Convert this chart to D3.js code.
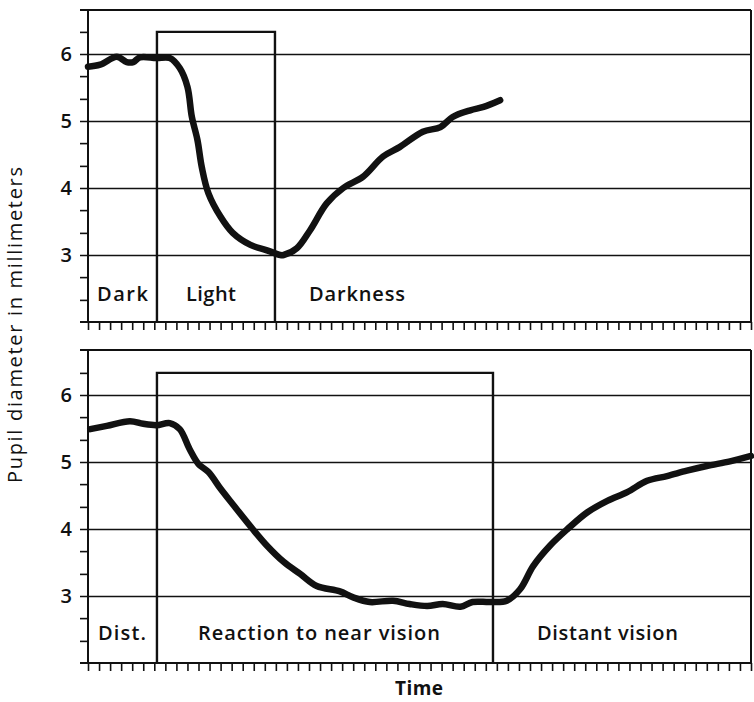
<!DOCTYPE html>
<html>
<head>
<meta charset="utf-8">
<script src="https://cdn.jsdelivr.net/npm/d3@7"></script>
<style>
  html, body { margin: 0; padding: 0; background: #fff; }
  svg { display: block; }
  text { font-family: "Open Sans", "Lato", "DejaVu Sans", sans-serif; fill: #111; }
</style>
</head>
<body>
<svg id="chart" width="754" height="702"></svg>
<script>
// ---- Data ----
// Top panel: light reflex (time units along the bottom tick scale)
const lightTime = [0, 1.1, 2.6, 3.5, 4.1, 4.7, 6.2, 7.4, 8.3, 9.0, 9.4, 9.9, 10.3, 10.9, 12.0, 13.1, 14.7, 16.2, 17.4, 17.7, 18.9, 20.1, 21.6, 23.1, 24.9, 26.7, 28.2, 30.3, 31.9, 33.0, 34.6, 35.8, 37.3];
const lightPupil = [5.81, 5.84, 5.96, 5.88, 5.88, 5.95, 5.94, 5.94, 5.79, 5.51, 5.06, 4.72, 4.31, 3.92, 3.57, 3.33, 3.15, 3.07, 3.0, 3.0, 3.1, 3.37, 3.77, 4.0, 4.17, 4.47, 4.61, 4.84, 4.91, 5.06, 5.16, 5.21, 5.31];
// Bottom panel: near-vision reaction
const nearTime = [0.2, 1.7, 3.8, 5.0, 6.2, 7.4, 8.3, 9.2, 10.0, 10.9, 12.0, 13.1, 14.9, 16.2, 17.7, 19.2, 20.7, 22.8, 24.0, 25.5, 27.6, 29.1, 30.7, 32.1, 33.7, 34.8, 36.4, 37.9, 39.1, 40.3, 41.8, 43.4, 45.2, 47.0, 48.8, 50.6, 52.4, 54.2, 56.0, 58.1, 60.0];
const nearPupil = [5.49, 5.54, 5.61, 5.57, 5.55, 5.58, 5.49, 5.19, 4.97, 4.85, 4.6, 4.37, 4.0, 3.75, 3.51, 3.33, 3.15, 3.07, 2.98, 2.91, 2.93, 2.88, 2.85, 2.88, 2.84, 2.91, 2.91, 2.93, 3.1, 3.45, 3.75, 4.0, 4.25, 4.42, 4.55, 4.72, 4.79, 4.87, 4.94, 5.01, 5.09];

const majorTicks = [3, 4, 5, 6];
const majorLabels = ["3", "4", "5", "6"];
const minorTicks = [2.33, 2.67, 3.33, 3.67, 4.33, 4.67, 5.33, 5.67, 6.33];
const timeTicks = d3.range(0, 61, 1);

// stimulus boxes: [start, end, top value]
const lightBox = [6.24, 16.92, 6.33];
const nearBox = [6.24, 36.65, 6.33];

const topLabels = [
  {text: "Dark", t: 0.81, w: 51},
  {text: "Light", t: 8.87, w: 50},
  {text: "Darkness", t: 20.0, w: 96}
];
const bottomLabels = [
  {text: "Dist.", t: 0.9, w: 48},
  {text: "Reaction to near vision", t: 9.95, w: 242},
  {text: "Distant vision", t: 40.63, w: 141}
];

const yTitle = "Pupil diameter in millimeters";
const xTitle = "Time";

// ---- Layout ----
const svg = d3.select("#chart");
const left = 88, right = 751;
const x = d3.scaleLinear().domain([0, 60]).range([left, right]);

const panels = [
  {top: 10, bottom: 322, time: lightTime, pupil: lightPupil, box: lightBox, labels: topLabels, labelY: 301},
  {top: 350, bottom: 663, time: nearTime, pupil: nearPupil, box: nearBox, labels: bottomLabels, labelY: 640}
];

const ink = "#111";

panels.forEach(p => {
  const y = d3.scaleLinear().domain([2, 2 + (p.bottom - p.top) / 67]).range([p.bottom, p.top]);
  const g = svg.append("g");

  // gridlines (extend left 8px past axis)
  const grid = g.append("g").attr("transform", `translate(${right},0)`)
    .call(d3.axisLeft(y).tickValues(majorTicks).tickSize(right - 80).tickFormat(""));
  grid.select(".domain").remove();
  grid.selectAll("line").attr("stroke", ink).attr("stroke-width", 1.6);

  // minor left ticks
  const ya = g.append("g").attr("transform", `translate(${left},0)`)
    .call(d3.axisLeft(y).tickValues(minorTicks).tickSize(8).tickFormat(""));
  ya.select(".domain").remove();
  ya.selectAll("line").attr("stroke", ink).attr("stroke-width", 1.6);

  // tick labels
  const yl = g.append("g").attr("transform", `translate(${left},0)`)
    .call(d3.axisLeft(y).tickValues(majorTicks).tickSize(0).tickPadding(16)
      .tickFormat((d, i) => majorLabels[i]));
  yl.select(".domain").remove();
  yl.selectAll("text").attr("font-size", 20).attr("font-weight", 600)
    .attr("font-family", "'Open Sans', sans-serif").attr("fill", ink);

  // bottom time ticks
  const xa = g.append("g").attr("transform", `translate(0,${p.bottom})`)
    .call(d3.axisBottom(x).tickValues(timeTicks).tickSize(8).tickFormat(""));
  xa.select(".domain").remove();
  xa.selectAll("line").attr("stroke", ink).attr("stroke-width", 1.6);

  // frame
  g.append("line").attr("x1", 80).attr("x2", right).attr("y1", p.top).attr("y2", p.top)
    .attr("stroke", ink).attr("stroke-width", 2);
  g.append("line").attr("x1", 80).attr("x2", right).attr("y1", p.bottom).attr("y2", p.bottom)
    .attr("stroke", ink).attr("stroke-width", 2);
  g.append("line").attr("x1", left).attr("x2", left).attr("y1", p.top).attr("y2", p.bottom)
    .attr("stroke", ink).attr("stroke-width", 2);
  g.append("line").attr("x1", right).attr("x2", right).attr("y1", p.top).attr("y2", p.bottom)
    .attr("stroke", ink).attr("stroke-width", 2);

  // stimulus box
  const [b0, b1, bt] = p.box;
  g.append("path")
    .attr("d", `M${x(b0)},${p.bottom} L${x(b0)},${y(bt)} L${x(b1)},${y(bt)} L${x(b1)},${p.bottom}`)
    .attr("fill", "none").attr("stroke", ink).attr("stroke-width", 2.4);

  // region labels
  p.labels.forEach(l => {
    g.append("text").attr("x", x(l.t)).attr("y", p.labelY)
      .attr("font-size", 20).attr("font-weight", 600)
      .attr("textLength", l.w).attr("lengthAdjust", "spacing").text(l.text);
  });

  // curve
  const pts = p.time.map((t, i) => [t, p.pupil[i]]);
  g.append("path").datum(pts)
    .attr("d", d3.line().x(d => x(d[0])).y(d => y(d[1])).curve(d3.curveCatmullRom.alpha(0.5)))
    .attr("fill", "none").attr("stroke", ink).attr("stroke-width", 6.5)
    .attr("stroke-linecap", "round").attr("stroke-linejoin", "round");
});

// axis titles
svg.append("text").attr("transform", "translate(22,325) rotate(-90)")
  .attr("text-anchor", "middle").attr("font-size", 20).attr("font-weight", 500)
  .attr("textLength", 316).attr("lengthAdjust", "spacing").text(yTitle);
svg.append("text").attr("x", 419).attr("y", 695)
  .attr("text-anchor", "middle").attr("font-size", 19).attr("font-weight", 700)
  .attr("textLength", 48).attr("lengthAdjust", "spacing").text(xTitle);
</script>
</body>
</html>
